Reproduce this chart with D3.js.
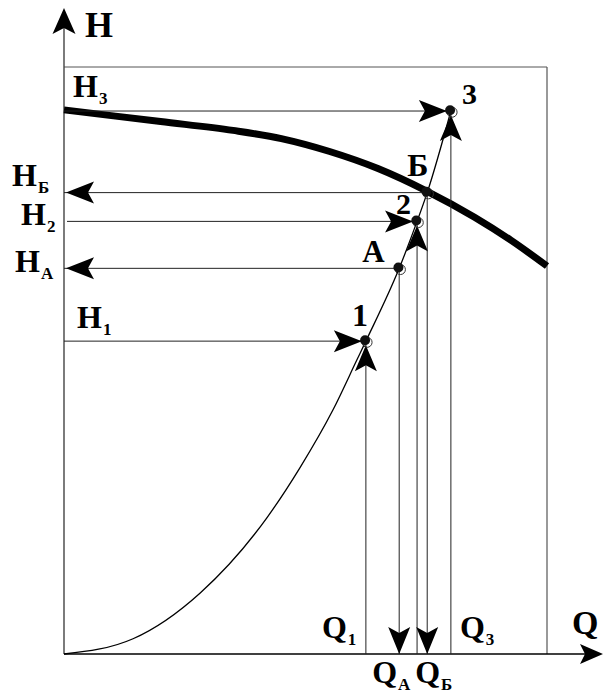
<!DOCTYPE html>
<html>
<head>
<meta charset="utf-8">
<script src="https://cdn.jsdelivr.net/npm/d3@7/dist/d3.min.js"></script>
<style>
  html, body { margin: 0; padding: 0; background: #fff; }
  svg { display: block; }
  text { font-family: "Liberation Serif", "Times New Roman", serif; font-weight: bold; fill: #000; }
</style>
</head>
<body>
<svg id="chart" width="604" height="693"></svg>
<script>
// Pump head curve H(Q)
const pumpQ = [0, 20, 35, 45, 55, 65, 75, 85, 92.5, 100];
const pumpH = [92.7, 90.7, 89.2, 87.8, 85.6, 82.7, 78.9, 74.4, 70.5, 66.1];

// Network (system) characteristic H(Q)
const networkQ = [0, 14.3, 28.2, 42.0, 48.9, 55.7, 60.7, 62.5, 69.4, 73.1, 75.2, 80.1];
const networkH = [0, 2.6, 10.4, 23.2, 31.8, 41.6, 50.2, 53.3, 65.7, 73.7, 78.6, 92.5];

// Operating points on the network curve
const pointNames = ["1", "А", "2", "Б", "3"];
const pointQ = [62.5, 69.4, 73.1, 75.2, 80.1];
const pointH = [53.3, 65.7, 73.7, 78.6, 92.5];
const pointRole = ["set", "read", "set", "read", "set"];

// Axis labels for the points (main letter + subscript)
const hLabels = [["H", "1"], ["H", "А"], ["H", "2"], ["H", "Б"], ["H", "3"]];
const qLabels = [["Q", "1"], ["Q", "А"], null, ["Q", "Б"], ["Q", "3"]];

const svg = d3.select("#chart");

const x = d3.scaleLinear().domain([0, 100]).range([64, 547]);
const y = d3.scaleLinear().domain([0, 100]).range([654, 67]);

const thin = "#222";

// arrowhead with a notched back, tip at (0,0) pointing along +x
function arrowHead(g, tx, ty, angleDeg, len = 28, wid = 22, notch = 6) {
  const p = d3.path();
  p.moveTo(0, 0);
  p.lineTo(-len, -wid / 2);
  p.lineTo(-len + notch, 0);
  p.lineTo(-len, wid / 2);
  p.closePath();
  g.append("path")
    .attr("d", p.toString())
    .attr("transform", `translate(${tx},${ty}) rotate(${angleDeg})`)
    .attr("fill", "#000");
}

// frame (top and right edges)
svg.append("line").attr("x1", x(0)).attr("x2", x(100)).attr("y1", y(100)).attr("y2", y(100))
  .attr("stroke", "#555").attr("stroke-width", 1);
svg.append("line").attr("x1", x(100)).attr("x2", x(100)).attr("y1", y(100)).attr("y2", y(0))
  .attr("stroke", "#555").attr("stroke-width", 1.2);

// axes
const axes = svg.append("g");
axes.append("line").attr("x1", x(0)).attr("x2", x(0)).attr("y1", y(0)).attr("y2", 20)
  .attr("stroke", "#444").attr("stroke-width", 1.4);
arrowHead(axes, x(0), 8, -90, 26, 23, 6);
axes.append("line").attr("x1", x(0)).attr("x2", 590).attr("y1", y(0)).attr("y2", y(0))
  .attr("stroke", "#000").attr("stroke-width", 1.4);
arrowHead(axes, 603, y(0), 0, 23, 20, 5);

axes.append("text").attr("x", 85).attr("y", 37).attr("font-size", 36).text("H");
axes.append("text").attr("x", 572).attr("y", 634).attr("font-size", 34).text("Q");

// network curve (thin)
const netData = networkQ.map((q, i) => [q, networkH[i]]);
svg.append("path")
  .datum(netData)
  .attr("fill", "none")
  .attr("stroke", "#000")
  .attr("stroke-width", 1.3)
  .attr("d", d3.line().x(d => x(d[0])).y(d => y(d[1])).curve(d3.curveMonotoneX));

// pump curve (thick)
const pumpData = pumpQ.map((q, i) => [q, pumpH[i]]);
svg.append("path")
  .datum(pumpData)
  .attr("fill", "none")
  .attr("stroke", "#000")
  .attr("stroke-width", 7)
  .attr("d", d3.line().x(d => x(d[0])).y(d => y(d[1])).curve(d3.curveMonotoneX));

// guide lines with arrows
const guides = svg.append("g");
pointQ.forEach((q, i) => {
  const px = x(q), py = y(pointH[i]);
  const role = pointRole[i];
  // horizontal guide
  const hx0 = (pointNames[i] === "2") ? x(0) + 3 : x(0);
  guides.append("line").attr("x1", hx0).attr("x2", px).attr("y1", py).attr("y2", py)
    .attr("stroke", thin).attr("stroke-width", 1);
  if (role === "set") arrowHead(guides, px - 4, py, 0);
  else arrowHead(guides, x(0) + 2, py, 180);
  // vertical guide
  guides.append("line").attr("x1", px).attr("x2", px).attr("y1", y(0)).attr("y2", py)
    .attr("stroke", thin).attr("stroke-width", 1);
  if (role === "set") arrowHead(guides, px, py + 4, -90, 26, 22, 6);
  else arrowHead(guides, px, y(0), 90, 27, 22, 6);
});

// point markers
const marks = svg.append("g");
pointQ.forEach((q, i) => {
  const px = x(q), py = y(pointH[i]);
  marks.append("circle").attr("cx", px + 1.2).attr("cy", py + 1.2).attr("r", 5)
    .attr("fill", "none").attr("stroke", "#333").attr("stroke-width", 1);
  marks.append("circle").attr("cx", px - 0.8).attr("cy", py - 0.8).attr("r", 5)
    .attr("fill", "#111");
});

// point names
const nameOffsets = { "1": [-14, -15, 32], "А": [-37, -6, 31], "2": [-21, -7, 30], "Б": [-20, -17, 32], "3": [11, -7, 30] };
pointNames.forEach((n, i) => {
  const px = x(pointQ[i]), py = y(pointH[i]);
  const [dx, dy, fs] = nameOffsets[n];
  svg.append("text").attr("x", px + dx).attr("y", py + dy).attr("font-size", fs).text(n);
});

// subscripted labels
function subLabel(g, lx, ly, main, sub, fs = 32, sfs = 17, sdx = 1, sdy = 7) {
  const t = g.append("text").attr("x", lx).attr("y", ly).attr("font-size", fs);
  t.append("tspan").text(main);
  t.append("tspan").attr("font-size", sfs).attr("dx", sdx).attr("dy", sdy).text(sub);
}

// head labels: inside the frame for given points, left of the axis for read points
const hPos = [[77, -13], [15, 4], [21, 4], [12, -7], [73, -14]];
hLabels.forEach((lab, i) => {
  const py = y(pointH[i]);
  subLabel(svg, hPos[i][0], py + hPos[i][1], lab[0], lab[1]);
});

// flow labels: above the axis for given points, below for read points
const qPos = [[-44, 638], [-27, 683], null, [-12, 683], [9, 638]];
qLabels.forEach((lab, i) => {
  if (!lab) return;
  const px = x(pointQ[i]);
  subLabel(svg, px + qPos[i][0], qPos[i][1], lab[0], lab[1]);
});
</script>
</body>
</html>
